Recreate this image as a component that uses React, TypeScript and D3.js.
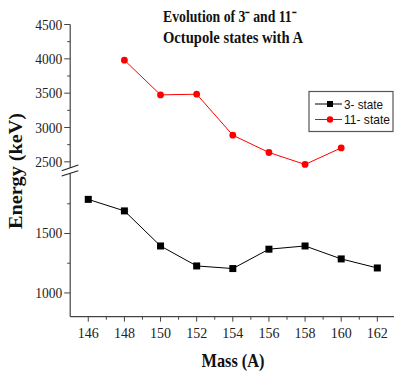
import * as d3 from 'd3';
import React, { useEffect, useRef } from 'react';

// mass numbers and octupole state energies (keV)
const masses3 = [146, 148, 150, 152, 154, 156, 158, 160, 162];
const energy3 = [1787, 1690, 1395, 1227, 1205, 1368, 1395, 1286, 1210];
const masses11 = [148, 150, 152, 154, 156, 158, 160];
const energy11 = [3981, 3475, 3485, 2888, 2636, 2462, 2703];

const xTicks = [146, 148, 150, 152, 154, 156, 158, 160, 162];
const xMinorTicks = [147, 149, 151, 153, 155, 157, 159, 161, 163];
const topTicks = [2500, 3000, 3500, 4000, 4500];
const topMinorTicks = [2750, 3250, 3750, 4250];
const bottomTicks = [1000, 1500];
const bottomMinorTicks = [1250, 1750];

const legendLabels = ['3- state', '11- state'];

const serif = '"Liberation Serif", "Times New Roman", serif';
const sans = '"Liberation Sans", Arial, sans-serif';

function App() {
  const ref = useRef<SVGSVGElement | null>(null);

  useEffect(() => {
    const svg = d3.select(ref.current);
    svg.selectAll('*').remove();

    const axisColor = '#444';
    const x = d3.scaleLinear().domain([145, 163]).range([70.2, 395.4]);
    // broken y axis: two linear pieces
    const yTop = d3.scaleLinear().domain([2400, 4500]).range([168.7, 24.5]);
    const yBot = d3.scaleLinear().domain([800, 1950]).range([316.7, 180]);
    const x0 = x(145);
    const yAxisBottom = yBot(800);

    // axis lines
    svg.append('line')
      .attr('x1', x0).attr('x2', x0)
      .attr('y1', yTop(4500)).attr('y2', yAxisBottom)
      .attr('stroke', axisColor).attr('stroke-width', 1.2);
    svg.append('line')
      .attr('x1', x0).attr('x2', 394)
      .attr('y1', yAxisBottom).attr('y2', yAxisBottom)
      .attr('stroke', axisColor).attr('stroke-width', 1.2);

    // y ticks
    const drawYTicks = (scale: any, major: number[], minor: number[]) => {
      svg.append('g').selectAll('line.maj').data(major).enter().append('line')
        .attr('x1', x0 - 6).attr('x2', x0)
        .attr('y1', d => scale(d)).attr('y2', d => scale(d))
        .attr('stroke', axisColor);
      svg.append('g').selectAll('line.min').data(minor).enter().append('line')
        .attr('x1', x0 - 3).attr('x2', x0)
        .attr('y1', d => scale(d)).attr('y2', d => scale(d))
        .attr('stroke', axisColor);
      svg.append('g').selectAll('text').data(major).enter().append('text')
        .attr('x', x0 - 8)
        .attr('y', d => scale(d) + 5)
        .attr('text-anchor', 'end')
        .attr('font-family', serif)
        .attr('font-size', 15)
        .attr('textLength', 27)
        .attr('lengthAdjust', 'spacingAndGlyphs')
        .attr('fill', '#222')
        .text(d => String(d));
    };
    drawYTicks(yTop, topTicks, topMinorTicks);
    drawYTicks(yBot, bottomTicks, bottomMinorTicks);

    // x ticks
    svg.append('g').selectAll('line').data(xTicks).enter().append('line')
      .attr('x1', d => x(d)).attr('x2', d => x(d))
      .attr('y1', yAxisBottom).attr('y2', yAxisBottom + 5)
      .attr('stroke', axisColor);
    svg.append('g').selectAll('line').data(xMinorTicks).enter().append('line')
      .attr('x1', d => x(d)).attr('x2', d => x(d))
      .attr('y1', yAxisBottom).attr('y2', yAxisBottom + 3)
      .attr('stroke', axisColor);
    svg.append('g').selectAll('text').data(xTicks).enter().append('text')
      .attr('x', d => x(d))
      .attr('y', 338)
      .attr('text-anchor', 'middle')
      .attr('font-family', serif)
      .attr('font-size', 15.5)
      .attr('textLength', 21)
      .attr('lengthAdjust', 'spacingAndGlyphs')
      .attr('fill', '#222')
      .text(d => String(d));

    // axis break marks
    svg.append('polygon')
      .attr('points', '61.7,170.7 78.3,165 78.3,170.7 61.7,176')
      .attr('fill', 'white');
    svg.append('line')
      .attr('x1', 61.7).attr('y1', 170.7).attr('x2', 78.3).attr('y2', 165)
      .attr('stroke', '#222').attr('stroke-width', 1.1);
    svg.append('line')
      .attr('x1', 61.7).attr('y1', 176).attr('x2', 78.3).attr('y2', 170.7)
      .attr('stroke', '#222').attr('stroke-width', 1.1);

    // 3- series
    const line3 = d3.line<number>()
      .x((d, i) => x(masses3[i]))
      .y(d => yBot(d));
    svg.append('path')
      .attr('d', line3(energy3))
      .attr('fill', 'none').attr('stroke', '#000').attr('stroke-width', 1);
    svg.append('g').selectAll('rect').data(energy3).enter().append('rect')
      .attr('x', (d, i) => x(masses3[i]) - 3.5)
      .attr('y', d => yBot(d) - 3.5)
      .attr('width', 7).attr('height', 7)
      .attr('fill', '#000');

    // 11- series
    const line11 = d3.line<number>()
      .x((d, i) => x(masses11[i]))
      .y(d => yTop(d));
    svg.append('path')
      .attr('d', line11(energy11))
      .attr('fill', 'none').attr('stroke', '#ff0000').attr('stroke-width', 1);
    svg.append('g').selectAll('circle').data(energy11).enter().append('circle')
      .attr('cx', (d, i) => x(masses11[i]))
      .attr('cy', d => yTop(d))
      .attr('r', 3.4)
      .attr('fill', '#ff0000');

    // legend
    const lg = svg.append('g');
    lg.append('rect')
      .attr('x', 309).attr('y', 91.5).attr('width', 84).attr('height', 40)
      .attr('fill', 'white').attr('stroke', '#555').attr('stroke-width', 1.2);
    const rows = [
      { label: legendLabels[0], color: '#000', y: 104, shape: 'square', len: 39 },
      { label: legendLabels[1], color: '#ff0000', y: 119.5, shape: 'circle', len: 46 },
    ];
    rows.forEach(r => {
      lg.append('line')
        .attr('x1', 315).attr('x2', 342).attr('y1', r.y).attr('y2', r.y)
        .attr('stroke', r.color).attr('stroke-width', 1);
      if (r.shape === 'square') {
        lg.append('rect')
          .attr('x', 327).attr('y', r.y - 3).attr('width', 6).attr('height', 6)
          .attr('fill', r.color);
      } else {
        lg.append('circle')
          .attr('cx', 330).attr('cy', r.y).attr('r', 3.2)
          .attr('fill', r.color);
      }
      lg.append('text')
        .attr('x', 344).attr('y', r.y + 4.5)
        .attr('font-family', sans).attr('font-size', 13.5)
        .attr('textLength', r.len)
        .attr('lengthAdjust', 'spacingAndGlyphs')
        .attr('fill', '#111')
        .text(r.label);
    });

    // title
    svg.append('text')
      .attr('x', 163).attr('y', 21.7)
      .attr('font-family', serif).attr('font-weight', 'bold').attr('font-size', 16)
      .attr('textLength', 133).attr('lengthAdjust', 'spacingAndGlyphs')
      .attr('fill', '#111')
      .text('Evolution of 3\u207B and 11\u207B');
    svg.append('text')
      .attr('x', 163).attr('y', 43.3)
      .attr('font-family', serif).attr('font-weight', 'bold').attr('font-size', 16)
      .attr('textLength', 140).attr('lengthAdjust', 'spacingAndGlyphs')
      .attr('fill', '#111')
      .text('Octupole states with A');

    // axis titles
    svg.append('text')
      .attr('transform', 'translate(22,171) rotate(-90)')
      .attr('text-anchor', 'middle')
      .attr('font-family', serif).attr('font-weight', 'bold').attr('font-size', 19)
      .attr('textLength', 116).attr('lengthAdjust', 'spacingAndGlyphs')
      .attr('fill', '#111')
      .text('Energy (keV)');
    svg.append('text')
      .attr('x', 233).attr('y', 367)
      .attr('text-anchor', 'middle')
      .attr('font-family', serif).attr('font-weight', 'bold').attr('font-size', 19)
      .attr('textLength', 63).attr('lengthAdjust', 'spacingAndGlyphs')
      .attr('fill', '#111')
      .text('Mass (A)');
  }, []);

  return (
    <svg
      ref={ref}
      width={394}
      height={374}
      style={{ position: 'absolute', left: 0, top: 0, background: 'white' }}
    />
  );
}

export default App;
